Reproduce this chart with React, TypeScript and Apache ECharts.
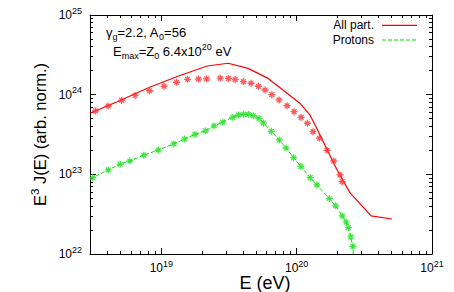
import React, { useEffect, useRef } from "react";
import * as echarts from "echarts";

// ---- data (E in eV, E^3 J(E) in arbitrary normalisation) ----
const allPartPointsE = [
  3.26e18, 4.04e18, 5.08e18, 6.39e18, 8.18e18, 1.047e19, 1.295e19, 1.56e19, 1.88e19, 2.16e19,
  2.72e19, 3.13e19, 3.51e19, 4.04e19, 4.6e19, 5.21e19, 5.84e19, 6.55e19, 7.41e19, 8.49e19,
  9.57e19, 1.078e20, 1.2e20, 1.32e20, 1.47e20, 1.68e20, 1.88e20, 2.09e20, 2.17e20,
];
const allPartPointsFlux = [
  6.25e23, 7.21e23, 8.46e23, 9.77e23, 1.12e24, 1.275e24, 1.432e24, 1.56e24, 1.57e24, 1.58e24,
  1.61e24, 1.6e24, 1.55e24, 1.46e24, 1.39e24, 1.275e24, 1.145e24, 1.0e24, 8.58e23, 7.26e23,
  6.12e23, 5.18e23, 4.38e23, 3.43e23, 2.84e23, 2.0e23, 1.47e23, 9.83e22, 8.1e22,
];
const allPartLineE = [
  2.97e18, 4.95e18, 8.11e18, 1.31e19, 2.18e19, 3.11e19, 4.37e19, 6.15e19, 8.64e19, 1.06e20,
  1.26e20, 1.44e20, 1.71e20, 1.99e20, 2.48e20, 3.55e20, 5.07e20,
];
const allPartLineFlux = [
  5.84e23, 8.46e23, 1.23e24, 1.69e24, 2.29e24, 2.48e24, 2.14e24, 1.6e24, 1.02e24, 7.76e23,
  5.48e23, 3.5e23, 1.91e23, 1.135e23, 5.85e22, 3.01e22, 2.75e22,
];
const protonPointsE = [
  3.11e18, 4.05e18, 4.97e18, 5.85e18, 7.42e18, 9.49e18, 1.237e19, 1.485e19, 1.77e19, 2.12e19,
  2.45e19, 2.84e19, 3.37e19, 3.71e19, 4.05e19, 4.41e19, 4.8e19, 5.27e19, 5.67e19, 6.5e19,
  7.44e19, 8.35e19, 9.49e19, 1.074e20, 1.26e20, 1.41e20, 1.745e20, 1.94e20, 2.17e20, 2.32e20,
  2.41e20, 2.51e20, 2.6e20,
];
const protonPointsFlux = [
  9.09e22, 1.136e23, 1.34e23, 1.47e23, 1.74e23, 2.02e23, 2.41e23, 2.77e23, 3.17e23, 3.52e23,
  4.05e23, 4.52e23, 5.2e23, 5.56e23, 5.68e23, 5.68e23, 5.44e23, 5.03e23, 4.42e23, 3.47e23,
  2.7e23, 2.14e23, 1.62e23, 1.256e23, 9.09e22, 7.36e22, 4.97e22, 4.02e22, 3.01e22, 2.51e22,
  2.14e22, 1.64e22, 1.245e22,
];
// extra end points of the proton dashed line (it runs from the left edge down past the bottom)
const protonLineEndsE = [2.97e18, 2.64e20];
const protonLineEndsFlux = [8.94e22, 8.5e21];

const xMajorTicks = [1e19, 1e20, 1e21];
const yMajorTicks = [1e22, 1e23, 1e24, 1e25];
const X_MIN = 2.97e18;
const X_MAX = 1e21;
const Y_MIN = 1e22;
const Y_MAX = 1e25;

const FONT = "'Liberation Sans', Arial, Helvetica, sans-serif";
const L = Math.log10;

function minorTicks(lo: number, hi: number): number[] {
  const out: number[] = [];
  for (let n = Math.floor(L(lo)); n < L(hi); n++) {
    for (let k = 2; k <= 9; k++) {
      const v = k * Math.pow(10, n);
      if (v >= lo && v <= hi) out.push(L(v));
    }
  }
  return out;
}

const pairs = (xs: number[], ys: number[]) => xs.map((x, i) => [L(x), L(ys[i])]);

const ASTER = "path://M5,0L5,10M0,5L10,5M1.6,1.6L8.4,8.4M1.6,8.4L8.4,1.6";

const labelRich = {
  b: { fontSize: 12, lineHeight: 18, verticalAlign: "middle", fontFamily: FONT, color: "#000" },
  s: { fontSize: 9, lineHeight: 8, verticalAlign: "top", fontFamily: FONT, color: "#000" },
};
const powLabel = (v: number) => `{b|10}{s|${Math.round(v)}}`;

function buildOption() {
  const xMajor = xMajorTicks.map(L);
  const yMajor = yMajorTicks.map(L);
  const xMinor = minorTicks(X_MIN, X_MAX);
  const yMinor = minorTicks(Y_MIN, Y_MAX);
  const gridRect = { left: 90, top: 15, right: 22, bottom: 38 };
  const line = { show: true, onZero: false, lineStyle: { color: "#000", width: 1 } };
  const noLine = { show: false };

  const xAxisBase = (gridIndex: number, position: string, ticks: number[], len: number, labels: boolean, showLine: boolean) => ({
    type: "value",
    gridIndex,
    position,
    min: L(X_MIN),
    max: L(X_MAX),
    axisLine: showLine ? line : noLine,
    axisTick: { show: true, inside: true, length: len, customValues: ticks, lineStyle: { color: "#000", width: 1 } },
    axisLabel: labels
      ? { show: true, customValues: xMajor, margin: 5, formatter: powLabel, rich: labelRich }
      : { show: false },
    splitLine: { show: false },
  });
  const yAxisBase = (gridIndex: number, position: string, ticks: number[], len: number, labels: boolean, showLine: boolean) => ({
    type: "value",
    gridIndex,
    position,
    min: L(Y_MIN),
    max: L(Y_MAX),
    axisLine: showLine ? line : noLine,
    axisTick: { show: true, inside: true, length: len, customValues: ticks, lineStyle: { color: "#000", width: 1 } },
    axisLabel: labels
      ? { show: true, customValues: yMajor, margin: 8, formatter: powLabel, rich: labelRich }
      : { show: false },
    splitLine: { show: false },
  });

  const protonLineE = [protonLineEndsE[0], ...protonPointsE, protonLineEndsE[1]];
  const protonLineFlux = [protonLineEndsFlux[0], ...protonPointsFlux, protonLineEndsFlux[1]];

  const textBase = { fontFamily: FONT, fill: "#000" };
  const ann = {
    b: { fontSize: 13, lineHeight: 18, verticalAlign: "middle", fontFamily: FONT, color: "#000" },
    sub: { fontSize: 9, lineHeight: 10, verticalAlign: "bottom", fontFamily: FONT, color: "#000" },
    sup: { fontSize: 9, lineHeight: 10, verticalAlign: "top", fontFamily: FONT, color: "#000" },
  };

  return {
    animation: false,
    backgroundColor: "#ffffff",
    grid: [gridRect, gridRect],
    xAxis: [
      xAxisBase(0, "bottom", xMajor, 6, true, true),
      xAxisBase(0, "top", xMajor, 6, false, true),
      xAxisBase(1, "bottom", xMinor, 3, false, false),
      xAxisBase(1, "top", xMinor, 3, false, false),
    ],
    yAxis: [
      yAxisBase(0, "left", yMajor, 6, true, true),
      yAxisBase(0, "right", yMajor, 6, false, true),
      yAxisBase(1, "left", yMinor, 3, false, false),
      yAxisBase(1, "right", yMinor, 3, false, false),
    ],
    series: [
      {
        name: "All part.",
        type: "line",
        xAxisIndex: 0,
        yAxisIndex: 0,
        data: pairs(allPartLineE, allPartLineFlux),
        symbol: "none",
        lineStyle: { color: "#ff0000", width: 1.2 },
        clip: true,
        z: 3,
      },
      {
        name: "All part. (sim)",
        type: "scatter",
        xAxisIndex: 0,
        yAxisIndex: 0,
        data: pairs(allPartPointsE, allPartPointsFlux),
        symbol: ASTER,
        symbolSize: 7,
        itemStyle: { color: "rgba(0,0,0,0)", borderColor: "#ff3030", borderWidth: 1.3 },
        z: 4,
      },
      {
        name: "Protons",
        type: "line",
        xAxisIndex: 0,
        yAxisIndex: 0,
        data: pairs(protonLineE, protonLineFlux),
        symbol: "none",
        lineStyle: { color: "#00e000", width: 1, type: [4, 2] },
        clip: true,
        z: 3,
      },
      {
        name: "Protons (sim)",
        type: "scatter",
        xAxisIndex: 0,
        yAxisIndex: 0,
        data: pairs(protonPointsE, protonPointsFlux),
        symbol: ASTER,
        symbolSize: 7,
        itemStyle: { color: "rgba(0,0,0,0)", borderColor: "#20e020", borderWidth: 1.3 },
        z: 4,
      },
    ],
    graphic: [
      // axis titles
      {
        type: "text",
        x: 265,
        y: 283,
        style: {
          ...textBase,
          text: "E (eV)",
          fontSize: 18,
          textAlign: "center",
          textVerticalAlign: "middle",
        },
      },
      {
        type: "text",
        x: 39.5,
        y: 134.5,
        rotation: Math.PI / 2,
        style: {
          ...textBase,
          text: "{b|E}{s|3}{b| J(E) (arb. norm.)}",
          textAlign: "center",
          textVerticalAlign: "middle",
          rich: {
            b: { fontSize: 16.5, lineHeight: 22, verticalAlign: "middle", fontFamily: FONT, color: "#000" },
            s: { fontSize: 11.5, lineHeight: 6, verticalAlign: "top", fontFamily: FONT, color: "#000" },
          },
        },
      },
      // annotations
      {
        type: "text",
        x: 106,
        y: 32,
        style: {
          ...textBase,
          text: "{b|γ}{sub|g}{b|=2.2, A}{sub|0}{b|=56}",
          textAlign: "left",
          textVerticalAlign: "middle",
          rich: ann,
        },
      },
      {
        type: "text",
        x: 113,
        y: 51,
        style: {
          ...textBase,
          text: "{b|E}{sub|max}{b|=Z}{sub|0}{b| 6.4x10}{sup|20}{b| eV}",
          textAlign: "left",
          textVerticalAlign: "middle",
          rich: ann,
        },
      },
      // key
      {
        type: "text",
        x: 374,
        y: 25,
        style: { ...textBase, text: "All part.", fontSize: 12, textAlign: "right", textVerticalAlign: "middle" },
      },
      {
        type: "rect",
        shape: { x: 382, y: 24.8, width: 35, height: 1.3 },
        style: { fill: "#ff0000", stroke: "none" },
      },
      {
        type: "text",
        x: 374,
        y: 40,
        style: { ...textBase, text: "Protons", fontSize: 12, textAlign: "right", textVerticalAlign: "middle" },
      },
      {
        type: "line",
        shape: { x1: 382, y1: 40, x2: 417, y2: 40 },
        style: { stroke: "#00e000", lineWidth: 1, lineDash: [4, 2] },
      },
    ],
  };
}

export default function App() {
  const ref = useRef<HTMLDivElement>(null);
  useEffect(() => {
    if (!ref.current) return;
    const chart = echarts.init(ref.current, null, { renderer: "svg" });
    chart.setOption(buildOption() as any);
    return () => chart.dispose();
  }, []);
  return (
    <div
      ref={ref}
      style={{ position: "fixed", left: 0, top: 0, width: 454, height: 292, background: "#fff" }}
    />
  );
}
